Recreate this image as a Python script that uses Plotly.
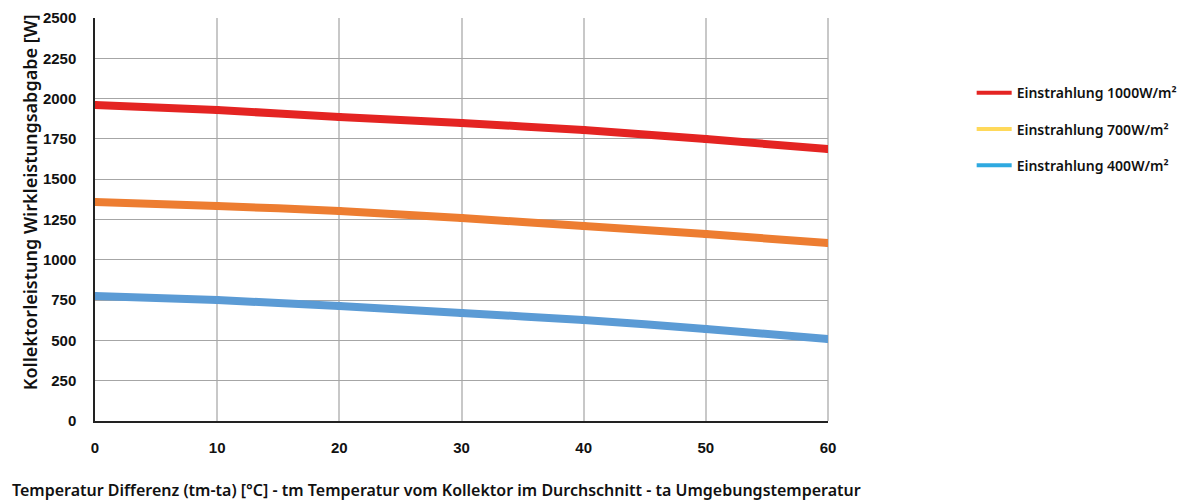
import plotly.graph_objects as go

temp_diff = [0, 10, 20, 30, 40, 50, 60]
p_1000 = [1960, 1929, 1886, 1849, 1805, 1749, 1687]
p_700 = [1359, 1334, 1303, 1259, 1210, 1160, 1104]
p_400 = [775, 750, 713, 670, 627, 571, 509]

series_names = ["Einstrahlung 1000W/m²", "Einstrahlung 700W/m²", "Einstrahlung 400W/m²"]
line_colors = ["#E42422", "#ED7D31", "#5B9BD5"]
legend_colors = ["#E42422", "#FFD95A", "#2EA9E0"]
y_ticks = [0, 250, 500, 750, 1000, 1250, 1500, 1750, 2000, 2250, 2500]
x_ticks = [0, 10, 20, 30, 40, 50, 60]

fig = go.Figure()
for vals, name, lc, gc in zip([p_1000, p_700, p_400], series_names, line_colors, legend_colors):
    fig.add_trace(go.Scatter(
        x=temp_diff, y=vals, mode="lines+markers", name=name,
        line=dict(color=lc, width=8, shape="spline", smoothing=0.5),
        marker=dict(color=lc, size=8, line=dict(width=0)),
        showlegend=False, hoverinfo="x+y",
    ))
    fig.add_trace(go.Scatter(
        x=[None], y=[None], mode="lines", name=name,
        line=dict(color=gc, width=4), legendgroup=name, showlegend=True,
    ))

tick_font = dict(family="Liberation Sans, Arial, sans-serif", size=15, color="#111111", weight="bold")

fig.update_layout(
    width=1170, height=494,
    margin=dict(l=87, r=350, t=10, b=81, autoexpand=False),
    plot_bgcolor="white", paper_bgcolor="white",
    showlegend=True,
    legend=dict(
        x=1.196, y=0.853, xanchor="left", yanchor="top",
        font=dict(family="Noto Sans, sans-serif", size=14, color="#111111", weight=600),
        tracegroupgap=15, itemwidth=35, bgcolor="rgba(0,0,0,0)",
    ),
    xaxis=dict(
        range=[0, 60], tickvals=x_ticks, ticktext=[str(v) for v in x_ticks],
        showgrid=True, gridcolor="#C8C8C8", gridwidth=2,
        showline=True, linecolor="#222222", linewidth=1.5,
        zeroline=False, ticks="", tickfont=tick_font, ticklabelstandoff=12,
        fixedrange=True,
    ),
    yaxis=dict(
        range=[0, 2500], tickvals=y_ticks, ticktext=[str(v) for v in y_ticks],
        showgrid=True, gridcolor="#A6A6A6", gridwidth=1.3,
        showline=True, linecolor="#222222", linewidth=1.5,
        zeroline=False, ticks="", tickfont=tick_font, ticklabelstandoff=14,
        fixedrange=True,
    ),
    annotations=[
        dict(text="Temperatur Differenz (tm-ta) [°C] - tm Temperatur vom Kollektor im Durchschnitt - ta Umgebungstemperatur",
             xref="paper", yref="paper", x=-0.116, y=-0.171, xanchor="left", yanchor="middle",
             showarrow=False, font=dict(family="Noto Sans, sans-serif", size=16, color="#111111", weight=600)),
        dict(text="Kollektorleistung Wirkleistungsabgabe [W]",
             xref="paper", yref="paper", x=-0.0887, y=0.543, xanchor="center", yanchor="middle",
             textangle=-90, showarrow=False,
             font=dict(family="Noto Sans, sans-serif", size=18, color="#111111", weight=600)),
    ],
)
fig.add_shape(type="line", xref="paper", yref="paper", x0=1, x1=1, y0=0, y1=1,
              line=dict(color="#C8C8C8", width=2), layer="below")

fig.write_html("out.html")
